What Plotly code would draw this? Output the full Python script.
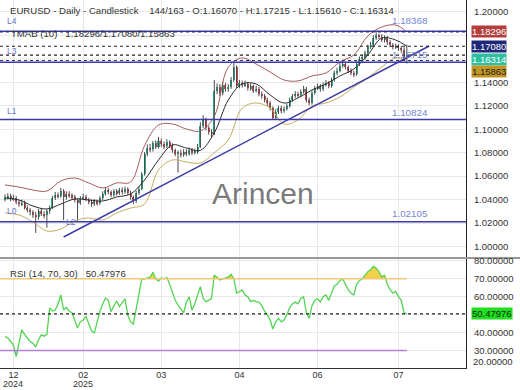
import plotly.graph_objects as go

# ---------------- data ----------------
bar_idx = list(range(145))

opens = [
    1.0405, 1.0420, 1.0430, 1.0405, 1.0415, 1.0380, 1.0360, 1.0375, 1.0330, 1.0310,
    1.0290, 1.0270, 1.0250, 1.0300, 1.0280, 1.0265, 1.0300, 1.0330, 1.0410, 1.0440,
    1.0430, 1.0470, 1.0420, 1.0450, 1.0435, 1.0420, 1.0395, 1.0370, 1.0410, 1.0425,
    1.0400, 1.0380, 1.0360, 1.0385, 1.0370, 1.0410, 1.0450, 1.0480, 1.0465, 1.0440,
    1.0470, 1.0455, 1.0480, 1.0465, 1.0490, 1.0460, 1.0420, 1.0385, 1.0460, 1.0490,
    1.0620, 1.0790, 1.0840, 1.0830, 1.0880, 1.0850, 1.0900, 1.0870, 1.0855, 1.0890,
    1.0860, 1.0820, 1.0790, 1.0800, 1.0780, 1.0810, 1.0790, 1.0825, 1.0800, 1.0810,
    1.0850, 1.1030, 1.1080, 1.1010, 1.0980, 1.0960, 1.1330, 1.1360, 1.1310, 1.1380,
    1.1340, 1.1360, 1.1420, 1.1530, 1.1370, 1.1395, 1.1375, 1.1390, 1.1350, 1.1365,
    1.1330, 1.1345, 1.1300, 1.1280, 1.1250, 1.1220, 1.1180, 1.1100, 1.1150, 1.1180,
    1.1155, 1.1175, 1.1200, 1.1250, 1.1280, 1.1300, 1.1290, 1.1320, 1.1345, 1.1250,
    1.1220, 1.1310, 1.1350, 1.1365, 1.1340, 1.1380, 1.1395, 1.1370, 1.1420, 1.1480,
    1.1500, 1.1540, 1.1560, 1.1530, 1.1500, 1.1480, 1.1470, 1.1560, 1.1600, 1.1610,
    1.1650, 1.1700, 1.1720, 1.1780, 1.1800, 1.1790, 1.1765, 1.1780, 1.1740, 1.1720,
    1.1700, 1.1710, 1.1690, 1.1680, 1.16070,
]
highs = [
    1.0445, 1.0455, 1.0450, 1.0440, 1.0430, 1.0395, 1.0400, 1.0390, 1.0350, 1.0330,
    1.0310, 1.0295, 1.0320, 1.0325, 1.0300, 1.0315, 1.0350, 1.0430, 1.0465, 1.0460,
    1.0500, 1.0490, 1.0470, 1.0470, 1.0455, 1.0440, 1.0410, 1.0430, 1.0450, 1.0440,
    1.0415, 1.0400, 1.0405, 1.0400, 1.0430, 1.0470, 1.0505, 1.0500, 1.0480, 1.0490,
    1.0490, 1.0500, 1.0505, 1.0510, 1.0505, 1.0475, 1.0435, 1.0475, 1.0510, 1.0635,
    1.0805, 1.0870, 1.0875, 1.0900, 1.0905, 1.0935, 1.0920, 1.0895, 1.0915, 1.0905,
    1.0880, 1.0835, 1.0820, 1.0825, 1.0830, 1.0830, 1.0845, 1.0840, 1.0835, 1.0875,
    1.1060, 1.1120, 1.1100, 1.1030, 1.1000, 1.1420, 1.1390, 1.1385, 1.1405, 1.1395,
    1.1385, 1.1445, 1.1580, 1.1545, 1.1420, 1.1415, 1.1415, 1.1405, 1.1390, 1.1380,
    1.1370, 1.1360, 1.1320, 1.1300, 1.1270, 1.1240, 1.1195, 1.1170, 1.1200, 1.1200,
    1.1195, 1.1220, 1.1270, 1.1300, 1.1325, 1.1320, 1.1340, 1.1370, 1.1360, 1.1270,
    1.1330, 1.1370, 1.1390, 1.1385, 1.1400, 1.1420, 1.1410, 1.1440, 1.1500, 1.1525,
    1.1565, 1.1590, 1.1575, 1.1545, 1.1520, 1.1500, 1.1580, 1.1620, 1.1635, 1.1670,
    1.1720, 1.1745, 1.1800, 1.1837, 1.1815, 1.1810, 1.1800, 1.1795, 1.1760, 1.1735,
    1.1730, 1.1725, 1.1710, 1.1700, 1.17215,
]
lows = [
    1.0385, 1.0400, 1.0385, 1.0390, 1.0360, 1.0340, 1.0345, 1.0315, 1.0290, 1.0265,
    1.0245, 1.0115, 1.0230, 1.0260, 1.0240, 1.0160, 1.0280, 1.0320, 1.0395, 1.0410,
    1.0415, 1.0225, 1.0400, 1.0415, 1.0400, 1.0375, 1.0215, 1.0355, 1.0395, 1.0385,
    1.0360, 1.0340, 1.0345, 1.0350, 1.0355, 1.0395, 1.0435, 1.0445, 1.0420, 1.0425,
    1.0435, 1.0440, 1.0445, 1.0450, 1.0440, 1.0400, 1.0360, 1.0370, 1.0440, 1.0480,
    1.0605, 1.0770, 1.0805, 1.0810, 1.0830, 1.0835, 1.0850, 1.0830, 1.0840, 1.0840,
    1.0800, 1.0770, 1.0630, 1.0760, 1.0765, 1.0770, 1.0775, 1.0780, 1.0785, 1.0790,
    1.0840, 1.1010, 1.0990, 1.0955, 1.0930, 1.0950, 1.1300, 1.1285, 1.1290, 1.1320,
    1.1320, 1.1345, 1.1405, 1.1350, 1.1350, 1.1355, 1.1360, 1.1330, 1.1330, 1.1310,
    1.1315, 1.1280, 1.1260, 1.1230, 1.1200, 1.1160, 1.1082, 1.1085, 1.1130, 1.1135,
    1.1140, 1.1160, 1.1185, 1.1235, 1.1265, 1.1270, 1.1275, 1.1305, 1.1230, 1.1205,
    1.1210, 1.1295, 1.1335, 1.1320, 1.1325, 1.1365, 1.1350, 1.1355, 1.1405, 1.1460,
    1.1485, 1.1525, 1.1510, 1.1480, 1.1460, 1.1445, 1.1455, 1.1540, 1.1580, 1.1595,
    1.1635, 1.1685, 1.1705, 1.1760, 1.1770, 1.1745, 1.1740, 1.1720, 1.1700, 1.1680,
    1.1685, 1.1670, 1.1655, 1.1590, 1.15610,
]
closes = [
    1.0420, 1.0430, 1.0405, 1.0415, 1.0380, 1.0360, 1.0375, 1.0330, 1.0310, 1.0290,
    1.0270, 1.0250, 1.0300, 1.0280, 1.0265, 1.0300, 1.0330, 1.0410, 1.0440, 1.0430,
    1.0470, 1.0420, 1.0450, 1.0435, 1.0420, 1.0395, 1.0370, 1.0410, 1.0425, 1.0400,
    1.0380, 1.0360, 1.0385, 1.0370, 1.0410, 1.0450, 1.0480, 1.0465, 1.0440, 1.0470,
    1.0455, 1.0480, 1.0465, 1.0490, 1.0460, 1.0420, 1.0385, 1.0460, 1.0490, 1.0620,
    1.0790, 1.0840, 1.0830, 1.0880, 1.0850, 1.0900, 1.0870, 1.0855, 1.0890, 1.0860,
    1.0820, 1.0790, 1.0800, 1.0780, 1.0810, 1.0790, 1.0825, 1.0800, 1.0810, 1.0850,
    1.1030, 1.1080, 1.1010, 1.0980, 1.0960, 1.1330, 1.1360, 1.1310, 1.1380, 1.1340,
    1.1360, 1.1420, 1.1530, 1.1370, 1.1395, 1.1375, 1.1390, 1.1350, 1.1365, 1.1330,
    1.1345, 1.1300, 1.1280, 1.1250, 1.1220, 1.1180, 1.1100, 1.1150, 1.1180, 1.1155,
    1.1175, 1.1200, 1.1250, 1.1280, 1.1300, 1.1290, 1.1320, 1.1345, 1.1250, 1.1220,
    1.1310, 1.1350, 1.1365, 1.1340, 1.1380, 1.1395, 1.1370, 1.1420, 1.1480, 1.1500,
    1.1540, 1.1560, 1.1530, 1.1500, 1.1480, 1.1470, 1.1560, 1.1600, 1.1610, 1.1650,
    1.1700, 1.1720, 1.1780, 1.1800, 1.1790, 1.1765, 1.1780, 1.1740, 1.1720, 1.1700,
    1.1710, 1.1690, 1.1680, 1.1607, 1.16314,
]
rsi_vals = [
    37.7, 37.0, 35.0, 33.0, 26.5, 35.0, 41.5, 39.0, 37.0, 35.0,
    34.0, 32.0, 36.0, 38.7, 38.0, 39.0, 53.7, 52.0, 52.6, 56.0,
    61.0, 52.6, 54.0, 52.0, 51.0, 47.0, 42.6, 46.0, 47.0, 48.9,
    45.0, 41.0, 39.8, 46.0, 51.7, 56.0, 59.3, 58.0, 51.7, 55.0,
    57.6, 54.5, 57.0, 58.8, 49.8, 46.0, 44.8, 53.0, 61.0, 69.8,
    70.0, 70.5, 71.0, 73.7, 70.0, 68.8, 70.5, 70.0, 70.7, 67.0,
    62.9, 58.0, 55.4, 53.0, 51.0, 57.0, 60.0, 52.6, 56.0, 61.0,
    65.6, 59.0, 57.3, 58.0, 59.1, 72.2, 71.0, 69.4, 70.0, 70.3,
    71.0, 72.5, 70.0, 62.0, 63.0, 63.8, 61.0, 60.0, 57.3, 58.0,
    57.3, 57.0, 55.0, 52.0, 50.0, 47.0, 42.0, 46.0, 48.0, 46.0,
    47.0, 50.0, 54.0, 56.0, 57.0, 56.0, 59.0, 60.0, 51.0, 48.0,
    55.0, 58.0, 59.0, 57.0, 60.0, 61.0, 58.0, 62.0, 66.0, 67.0,
    69.0, 70.0, 67.0, 64.0, 62.0, 61.0, 67.0, 69.0, 70.0, 72.0,
    74.0, 75.0, 77.0, 76.0, 74.0, 71.0, 72.0, 67.0, 64.0, 62.0,
    63.0, 60.0, 58.0, 51.0, 50.47976,
]

band_idx = [0, 5, 10, 15, 20, 25, 30, 35, 40, 45,
            50, 55, 60, 65, 70, 75, 80, 85, 90, 95,
            100, 105, 110, 115, 120, 125, 130, 135, 140, 144]
tmab_upper = [1.0525, 1.0507, 1.0482, 1.0473, 1.0559, 1.0584, 1.0542, 1.0499, 1.0542, 1.0550,
              1.0860, 1.1036, 1.1045, 1.1002, 1.0985, 1.1110, 1.1530, 1.1608, 1.1556, 1.1488,
              1.1420, 1.1412, 1.1454, 1.1480, 1.1574, 1.1633, 1.1795, 1.1872, 1.1889, 1.18296]
tmab_mid = [1.0414, 1.0397, 1.0345, 1.0320, 1.0362, 1.0405, 1.0397, 1.0388, 1.0422, 1.0448,
            1.0567, 1.0738, 1.0866, 1.0840, 1.0820, 1.0970, 1.1249, 1.1386, 1.1386, 1.1292,
            1.1224, 1.1267, 1.1335, 1.1386, 1.1454, 1.1514, 1.1633, 1.1778, 1.1761, 1.17080]
tmab_lower = [1.0286, 1.0269, 1.0209, 1.0132, 1.0149, 1.0218, 1.0243, 1.0226, 1.0286, 1.0328,
              1.0362, 1.0652, 1.0738, 1.0721, 1.0712, 1.0800, 1.0908, 1.1180, 1.1224, 1.1181,
              1.1045, 1.1079, 1.1198, 1.1224, 1.1275, 1.1360, 1.1437, 1.1531, 1.1608, 1.15863]

tick_idx = [3, 28, 56, 84, 112, 141]
tick_months = ["12", "02", "03", "04", "06", "07"]
tick_years = ["2024", "2025", "", "", "", ""]

level_names = ["L4", "L3", "L1", "L0"]
level_values = [1.18368, 1.15715, 1.10824, 1.02105]

trend_idx = [21, 152]
trend_vals = [1.0081, 1.1710]

# visible price-axis labels (1.16 / 1.18 are hidden behind the value boxes)
price_ticks = [1.00, 1.02, 1.04, 1.06, 1.08, 1.10, 1.12, 1.14, 1.20]
price_grid = [1.00, 1.02, 1.04, 1.06, 1.08, 1.10, 1.12, 1.14, 1.16, 1.18, 1.20]
rsi_ticks = [30, 40, 60, 70, 80]
rsi_grid = [30, 40, 50, 60, 70, 80]
rsi_levels = [70, 30]

# ---------------- style ----------------
UP = "#2aae8c"
DN = "#d8454a"
WICK = "#4a4a4a"
NAVY = "#3b3ba8"
LBL = "#6577cc"
GRID = "#e8e8e8"
AX = "#222222"
TXT = "#333333"
FONT = "Liberation Sans, Arial, sans-serif"

W, H = 520, 390
ML, MR, MT, MB = 0, 54, 0, 22
PW = W - ML - MR
PH = H - MT - MB


def px_x(px):
    return px / PW


def px_y(py):
    return 1 - py / PH


x_range = [-1.8, 165.2]
y_range = [0.99104, 1.21023]
rsi_range = [20.2, 81.1]

fig = go.Figure()

# candle wicks
fig.add_trace(go.Ohlc(
    x=bar_idx, open=opens, high=highs, low=lows, close=closes,
    tickwidth=0, increasing_line_color=WICK, decreasing_line_color=WICK,
    line_width=1, xaxis="x", yaxis="y", hoverinfo="skip"))

# candle bodies
body_base = [min(o, c) for o, c in zip(opens, closes)]
body_len = [max(abs(c - o), 0.0004) for o, c in zip(opens, closes)]
body_col = [UP if c >= o else DN for o, c in zip(opens, closes)]
fig.add_trace(go.Bar(
    x=bar_idx, y=body_len, base=body_base, marker_color=body_col,
    marker_line_width=0, width=0.72, xaxis="x", yaxis="y", hoverinfo="skip"))

# TMAB bands
for vals, col in [(tmab_upper, "#a65b5e"), (tmab_lower, "#c9ab5c"), (tmab_mid, "#2b2b2b")]:
    fig.add_trace(go.Scatter(
        x=band_idx, y=vals, mode="lines", line=dict(color=col, width=1, shape="spline"),
        xaxis="x", yaxis="y", hoverinfo="skip"))

# trend line L2
fig.add_trace(go.Scatter(
    x=trend_idx, y=trend_vals, mode="lines", line=dict(color=NAVY, width=1.5),
    xaxis="x", yaxis="y", hoverinfo="skip"))

# RSI fills and line
ob, os_ = rsi_levels
fig.add_trace(go.Scatter(x=bar_idx, y=[ob] * len(bar_idx), mode="lines", line=dict(width=0),
                         xaxis="x2", yaxis="y2", hoverinfo="skip"))
fig.add_trace(go.Scatter(x=bar_idx, y=[max(v, ob) for v in rsi_vals], mode="lines",
                         line=dict(width=0), fill="tonexty", fillcolor="rgba(240,200,40,0.85)",
                         xaxis="x2", yaxis="y2", hoverinfo="skip"))
fig.add_trace(go.Scatter(x=bar_idx, y=[os_] * len(bar_idx), mode="lines", line=dict(width=0),
                         xaxis="x2", yaxis="y2", hoverinfo="skip"))
fig.add_trace(go.Scatter(x=bar_idx, y=[min(v, os_) for v in rsi_vals], mode="lines",
                         line=dict(width=0), fill="tonexty", fillcolor="rgba(180,120,230,0.6)",
                         xaxis="x2", yaxis="y2", hoverinfo="skip"))
fig.add_trace(go.Scatter(x=bar_idx, y=rsi_vals, mode="lines",
                         line=dict(color="#52d452", width=1.3),
                         xaxis="x2", yaxis="y2", hoverinfo="skip"))

shapes = []
# grid lines for hidden labels
for v in price_grid:
    if v not in price_ticks:
        shapes.append(dict(type="line", xref="paper", x0=0, x1=1, yref="y", y0=v, y1=v,
                           layer="below", line=dict(color=GRID, width=1)))
for v in rsi_grid:
    if v not in rsi_ticks:
        shapes.append(dict(type="line", xref="paper", x0=0, x1=1, yref="y2", y0=v, y1=v,
                           layer="below", line=dict(color=GRID, width=1)))
# horizontal support/resistance levels
for v in level_values:
    shapes.append(dict(type="line", xref="paper", x0=0, x1=1, yref="y", y0=v, y1=v,
                       line=dict(color=NAVY, width=1.5)))
# dashed last-value lines
for v, col in [(tmab_upper[-1], "#2a2a80"), (tmab_mid[-1], "#222222"),
               (closes[-1], "#222222"), (tmab_lower[-1], "#2a2a80")]:
    shapes.append(dict(type="line", xref="paper", x0=0, x1=1, yref="y", y0=v, y1=v,
                       line=dict(color=col, width=1.2, dash="3px,3px")))
# RSI 70/30 levels
shapes.append(dict(type="line", xref="x2", x0=x_range[0], x1=bar_idx[-1], yref="y2",
                   y0=ob, y1=ob, line=dict(color="#f2c877", width=1.5)))
shapes.append(dict(type="line", xref="x2", x0=x_range[0], x1=bar_idx[-1], yref="y2",
                   y0=os_, y1=os_, line=dict(color="#b57fe0", width=1.5)))
shapes.append(dict(type="line", xref="paper", x0=0, x1=1, yref="y2",
                   y0=rsi_vals[-1], y1=rsi_vals[-1],
                   line=dict(color="#222222", width=1.2, dash="3px,3px")))
# panel separator
shapes.append(dict(type="line", xref="paper", x0=0, x1=W / PW, yref="paper",
                   y0=px_y(258), y1=px_y(258), line=dict(color="#333333", width=1)))

ann = []
ann.append(dict(xref="paper", yref="paper", x=px_x(8), y=px_y(10.5), xanchor="left",
                yanchor="middle", showarrow=False,
                text="EURUSD - Daily - Candlestick    144/163 - O:%.5f - H:%.5f - L:%.5f - C:%.5f"
                     % (opens[-1], highs[-1], lows[-1], closes[-1]),
                font=dict(size=9.6, color=TXT)))
ann.append(dict(xref="paper", yref="paper", x=px_x(9), y=px_y(33.5), xanchor="left",
                yanchor="middle", showarrow=False,
                text="TMAB (10)   %.5f/%.5f/%.5f" % (tmab_upper[-1], tmab_mid[-1], tmab_lower[-1]),
                font=dict(size=9.6, color=TXT)))
ann.append(dict(xref="paper", yref="paper", x=px_x(8), y=px_y(273), xanchor="left",
                yanchor="middle", showarrow=False,
                text="RSI (14, 70, 30)   %.5f" % rsi_vals[-1],
                font=dict(size=9.6, color=TXT)))
ann.append(dict(xref="paper", yref="paper", x=px_x(263), y=px_y(193), xanchor="center",
                yanchor="middle", showarrow=False, text="Arincen",
                font=dict(size=30, color="rgba(105,105,105,0.9)")))

name_shift = {"L4": 3, "L3": 4, "L1": 2, "L0": 4}
value_shift = {"L4": 3, "L3": 0, "L1": 0, "L0": 1}
for name, v in zip(level_names, level_values):
    ann.append(dict(xref="paper", yref="y", x=px_x(5), y=v, xanchor="left", yanchor="bottom",
                    yshift=name_shift[name], showarrow=False, text=name,
                    font=dict(size=8.5, color=LBL)))
    ann.append(dict(xref="x", yref="y", x=bar_idx[-1] + 1, y=v, xanchor="center",
                    yanchor="bottom", yshift=value_shift[name], showarrow=False,
                    text="%.5f" % v, font=dict(size=9.8, color="#7585d6")))
ann.append(dict(xref="x", yref="y", x=trend_idx[0], y=trend_vals[0], xanchor="left",
                yanchor="middle", yshift=15, showarrow=False, text="L2",
                font=dict(size=8.5, color=LBL)))

# last-value boxes on the right axis
for v, bg, fg, ys, yr in [(tmab_upper[-1], "#b33c3c", "white", 0, "y"),
                          (tmab_mid[-1], "#1f2878", "white", 0, "y"),
                          (closes[-1], "#2fbf9f", "white", -4, "y"),
                          (tmab_lower[-1], "#c39522", "#222222", -11, "y"),
                          (rsi_vals[-1], "#1fe01f", "#222222", 0, "y2")]:
    ann.append(dict(xref="paper", yref=yr, x=1, y=v, xanchor="left", yanchor="middle",
                    xshift=5, yshift=ys, showarrow=False, text="%.5f" % v, bgcolor=bg,
                    borderpad=0, font=dict(size=9.5, color=fg)))
ann.append(dict(xref="paper", yref="paper", x=1, y=px_y(361), xanchor="left",
                yanchor="middle", xshift=5, showarrow=False, text="%.5f" % 20,
                font=dict(size=9.5, color=TXT)))
for t, yr in zip(tick_idx, tick_years):
    if yr:
        ann.append(dict(xref="x2", yref="paper", x=t, y=px_y(384.5), xanchor="center",
                        yanchor="middle", showarrow=False, text=yr,
                        font=dict(size=9, color=TXT)))

fig.update_layout(
    width=W, height=H, margin=dict(l=ML, r=MR, t=MT, b=MB, autoexpand=False),
    paper_bgcolor="white", plot_bgcolor="white", showlegend=False,
    font=dict(family=FONT, color=TXT), bargap=0,
    shapes=shapes, annotations=ann,
    xaxis=dict(domain=[0, 1], anchor="y", range=x_range, tickvals=tick_idx,
               showticklabels=False, showgrid=True, gridcolor=GRID, zeroline=False,
               rangeslider=dict(visible=False), ticks=""),
    xaxis2=dict(domain=[0, 1], anchor="y2", range=x_range, tickvals=tick_idx,
                ticktext=tick_months, showgrid=True, gridcolor=GRID, zeroline=False,
                showline=True, linecolor="#333333", ticks="", ticklabelstandoff=-2,
                tickfont=dict(size=9, color=TXT)),
    yaxis=dict(domain=[px_y(257), 1], anchor="x", side="right", range=y_range,
               tickvals=price_ticks, tickformat=".5f", showgrid=True, gridcolor=GRID,
               zeroline=False, showline=True, linecolor=AX, ticks="outside", ticklen=5,
               tickcolor="rgba(0,0,0,0)", tickfont=dict(size=9.5, color=TXT)),
    yaxis2=dict(domain=[0, px_y(259)], anchor="x2", side="right", range=rsi_range,
                tickvals=rsi_ticks, tickformat=".5f", showgrid=True, gridcolor=GRID,
                zeroline=False, showline=True, linecolor=AX, ticks="outside", ticklen=5,
                tickcolor="rgba(0,0,0,0)", tickfont=dict(size=9.5, color=TXT)),
)

fig.write_html("out.html", config={"displayModeBar": False},
               post_script="document.body.style.margin='0';document.body.style.padding='0';")
